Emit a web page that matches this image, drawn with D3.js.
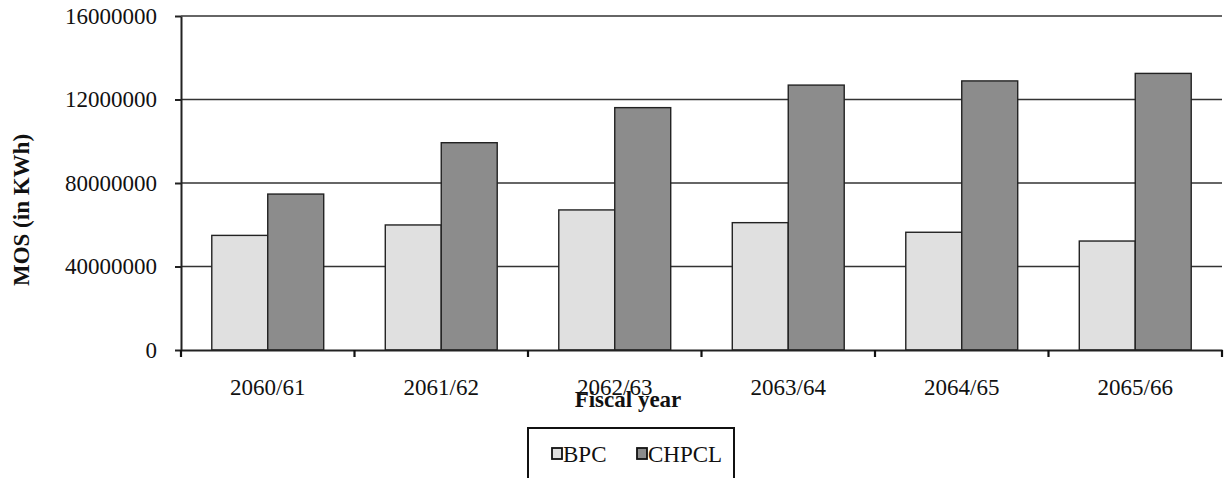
<!DOCTYPE html>
<html>
<head>
<meta charset="utf-8">
<script src="https://cdn.jsdelivr.net/npm/d3@7"></script>
<style>
  html, body { margin: 0; padding: 0; background: #fff; }
  svg { display: block; }
  text { font-family: "Liberation Serif", "Times New Roman", serif; fill: #111; }
</style>
</head>
<body>
<svg id="chart" width="1225" height="478"></svg>
<script>
// Fiscal years and electricity sold per company
const categories = ["2060/61", "2061/62", "2062/63", "2063/64", "2064/65", "2065/66"];
const seriesNames = ["BPC", "CHPCL"];
const bpcValues = [54900000, 59900000, 67100000, 61000000, 56400000, 52200000];
const chpclValues = [74700000, 99300000, 116100000, 126900000, 128900000, 132500000];
const tickValues = [0, 40000000, 80000000, 120000000, 160000000];
const tickLabels = ["0", "40000000", "80000000", "12000000", "16000000"];

const colors = { BPC: "#e0e0e0", CHPCL: "#8c8c8c" };
const values = { BPC: bpcValues, CHPCL: chpclValues };

const svg = d3.select("#chart");
const plot = { left: 181, right: 1222, top: 16, bottom: 350 };

const x = d3.scaleBand().domain(categories).range([plot.left, plot.right]).padding(0);
const xs = d3.scaleBand().domain(seriesNames).range([0, x.bandwidth()])
  .paddingInner(0).paddingOuter(0.55);
const y = d3.scaleLinear().domain([0, 160000000]).range([plot.bottom, plot.top]);

// horizontal gridlines behind the bars
svg.append("g").selectAll("line")
  .data(tickValues.slice(1))
  .join("line")
  .attr("x1", plot.left).attr("x2", plot.right)
  .attr("y1", d => y(d)).attr("y2", d => y(d))
  .attr("stroke", "#333").attr("stroke-width", 1.6);

// bars
const rows = categories.map((c, i) => ({ c, vals: seriesNames.map(s => ({ s, v: values[s][i] })) }));
svg.append("g").selectAll("g")
  .data(rows)
  .join("g")
  .attr("transform", d => `translate(${x(d.c)},0)`)
  .selectAll("rect")
  .data(d => d.vals)
  .join("rect")
  .attr("x", d => xs(d.s))
  .attr("width", xs.bandwidth())
  .attr("y", d => y(d.v))
  .attr("height", d => y(0) - y(d.v))
  .attr("fill", d => colors[d.s])
  .attr("stroke", "#222")
  .attr("stroke-width", 1.4);

// y axis
const yAxis = d3.axisLeft(y)
  .tickValues(tickValues)
  .tickFormat((d, i) => tickLabels[i])
  .tickSize(6).tickSizeOuter(0).tickPadding(18);
const gy = svg.append("g").attr("transform", `translate(${plot.left},0)`).call(yAxis);
gy.select(".domain").attr("stroke", "#222").attr("stroke-width", 2);
gy.selectAll(".tick line").attr("stroke", "#222").attr("stroke-width", 2);
gy.selectAll(".tick text").style("font-size", "23px").attr("font-family", null);

// x axis: labels centred in each band, ticks at band boundaries
const xAxis = d3.axisBottom(x).tickSize(0).tickSizeOuter(0).tickPadding(29);
const gx = svg.append("g").attr("transform", `translate(0,${plot.bottom})`).call(xAxis);
gx.select(".domain").attr("stroke", "#222").attr("stroke-width", 2);
gx.selectAll(".tick text").style("font-size", "23px").attr("font-family", null);
gx.selectAll(".boundary")
  .data(categories.map(c => x(c)).concat([plot.right]))
  .join("line")
  .attr("class", "boundary")
  .attr("x1", d => d).attr("x2", d => d)
  .attr("y1", 0).attr("y2", 7)
  .attr("stroke", "#111").attr("stroke-width", 2.2);

// axis titles
svg.append("text")
  .attr("transform", "translate(29,210) rotate(-90)")
  .attr("text-anchor", "middle")
  .style("font-size", "23px").style("font-weight", "bold")
  .text("MOS (in KWh)");

svg.append("text")
  .attr("x", 628).attr("y", 407)
  .attr("text-anchor", "middle")
  .style("font-size", "23px").style("font-weight", "bold")
  .text("Fiscal year");

// legend
const legend = svg.append("g");
legend.append("rect")
  .attr("x", 528).attr("y", 428).attr("width", 206).attr("height", 70)
  .attr("fill", "#fff").attr("stroke", "#111").attr("stroke-width", 2);
const legendX = d3.scaleOrdinal().domain(seriesNames).range([552, 637]);
const item = legend.selectAll("g.item")
  .data(seriesNames)
  .join("g")
  .attr("class", "item")
  .attr("transform", d => `translate(${legendX(d)},448)`);
item.append("rect")
  .attr("width", 10).attr("height", 11)
  .attr("fill", d => colors[d])
  .attr("stroke", "#111").attr("stroke-width", 1.8);
item.append("text")
  .attr("x", 11).attr("y", 14)
  .style("font-size", "23px")
  .text(d => d);
</script>
</body>
</html>
